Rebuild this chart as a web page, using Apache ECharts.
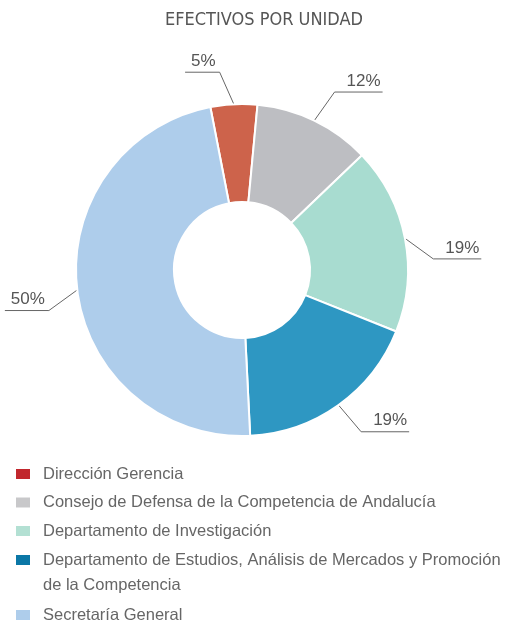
<!DOCTYPE html>
<html>
<head>
<meta charset="utf-8">
<script src="https://cdn.jsdelivr.net/npm/echarts@6/dist/echarts.min.js"></script>
<style>
  html, body { margin: 0; padding: 0; background: #fff; }
  #chart { width: 506px; height: 622px; }
</style>
</head>
<body>
<div id="chart"></div>
<script>
// ─── Data ─────────────────────────────────────────────────────────────────
const units = [
  'Dirección Gerencia',
  'Consejo de Defensa de la Competencia de Andalucía',
  'Departamento de Investigación',
  'Departamento de Estudios, Análisis de Mercados y Promoción de la Competencia',
  'Secretaría General'
];
const staff = [2, 5, 8, 8, 21];
const shareLabels = ['5%', '12%', '19%', '19%', '50%'];

const sliceColors  = ['#cd634b', '#bdbec2', '#a8dcd0', '#2e97c2', '#aecdeb'];
const legendColors = ['#c1272d', '#c8c8ca', '#b3e0d3', '#0b77a6', '#aecdeb'];

const FONT = "'Liberation Sans', Arial, sans-serif";
const TEXT_GREY = '#666';
const LEADER = 35;                      // slanted part of each label line
const SIDE_SLOPE = 36 * Math.PI / 180;  // side labels drop at this angle

// ─── Legend helpers ───────────────────────────────────────────────────────
// the reference legend swatches use stronger colours than the slices

function legendItems(from, to) {
  return units.slice(from, to).map((name, i) => ({
    name,
    itemStyle: { color: legendColors[from + i], borderWidth: 0 }
  }));
}

const legendText = {
  fontFamily: FONT,
  fontSize: 16.5,
  color: TEXT_GREY,
  lineHeight: 20,
  padding: [0, 0, 0, 8]
};

const baseLegend = {
  orient: 'vertical',
  left: 16,
  padding: 0,
  itemWidth: 14,
  itemHeight: 10,
  itemGap: 8.5,
  icon: 'rect',
  selectedMode: false,
  textStyle: legendText
};

// two-line entry: an empty line on top keeps the swatch level with line one
function wrapLong(name) {
  return '{gap| }\n{t|' + name.replace(/ (de la Competencia)$/, '}\n{t|$1') + '}';
}

// ─── Label lines ──────────────────────────────────────────────────────────
// slanted leader out of the slice, then a flat run under the text

function percentLabelLayout(params) {
  const pts = params.labelLinePoints;
  if (!pts) return {};
  const start = pts[0];
  const rx = pts[1][0] - start[0];
  const ry = pts[1][1] - start[1];
  const rl = Math.hypot(rx, ry) || 1;
  const sx = rx < 0 ? -1 : 1;
  let dx, dy;
  if (Math.abs(ry) > Math.abs(rx)) {
    // top / bottom labels: halfway between radial and diagonal
    dx = rx / rl + sx * Math.SQRT1_2;
    dy = ry / rl + (ry < 0 ? -1 : 1) * Math.SQRT1_2;
  } else {
    // side labels always drop
    dx = sx * Math.cos(SIDE_SLOPE);
    dy = Math.sin(SIDE_SLOPE);
  }
  const dl = Math.hypot(dx, dy);
  const elbow = [start[0] + dx / dl * LEADER, start[1] + dy / dl * LEADER];
  const w = params.labelRect.width;
  const left = sx < 0;
  const textX = left ? elbow[0] - 4 : elbow[0] + 12;
  const end = [left ? textX - w - 6 : textX + w + 2, elbow[1]];
  return {
    x: textX,
    y: elbow[1],
    align: left ? 'right' : 'left',
    verticalAlign: 'middle',
    labelLinePoints: [start, elbow, end]
  };
}

// ─── Chart ────────────────────────────────────────────────────────────────

const chart = echarts.init(document.getElementById('chart'));

chart.setOption({
  animation: false,
  title: {
    text: 'EFECTIVOS POR UNIDAD',
    left: 165,
    top: 11,
    padding: 0,
    textStyle: {
      fontFamily: "'Liberation Sans Narrow', 'DejaVu Sans Condensed', sans-serif",
      fontSize: 18,
      fontWeight: 'normal',
      color: '#555'
    }
  },
  legend: [
    { ...baseLegend, top: 464, data: legendItems(0, 3) },
    {
      ...baseLegend,
      top: 522.5,
      data: legendItems(3, 4),
      formatter: wrapLong,
      textStyle: {
        ...legendText,
        rich: {
          gap: { fontSize: 16.5, lineHeight: 25 },
          t: { fontFamily: FONT, fontSize: 16.5, lineHeight: 25, color: TEXT_GREY }
        }
      }
    },
    { ...baseLegend, top: 605, data: legendItems(4, 5) }
  ],
  series: [{
    type: 'pie',
    center: [242, 270],
    radius: [68, 166],
    startAngle: 101,
    clockwise: true,
    avoidLabelOverlap: false,
    itemStyle: { borderColor: '#fff', borderWidth: 2 },
    emphasis: { disabled: true },
    label: {
      show: true,
      position: 'outside',
      bleedMargin: 0,
      formatter: p => '{v|' + shareLabels[p.dataIndex] + '}\n{g| }',
      rich: {
        v: { fontFamily: FONT, fontSize: 17, lineHeight: 22, color: '#555' },
        g: { fontSize: 10, lineHeight: 22 }
      }
    },
    labelLine: {
      show: true,
      length: 30,
      length2: 0,
      lineStyle: { color: '#666', width: 1 }
    },
    labelLayout: percentLabelLayout,
    data: units.map((name, i) => ({
      name,
      value: staff[i],
      itemStyle: { color: sliceColors[i] }
    }))
  }]
});
</script>
</body>
</html>
